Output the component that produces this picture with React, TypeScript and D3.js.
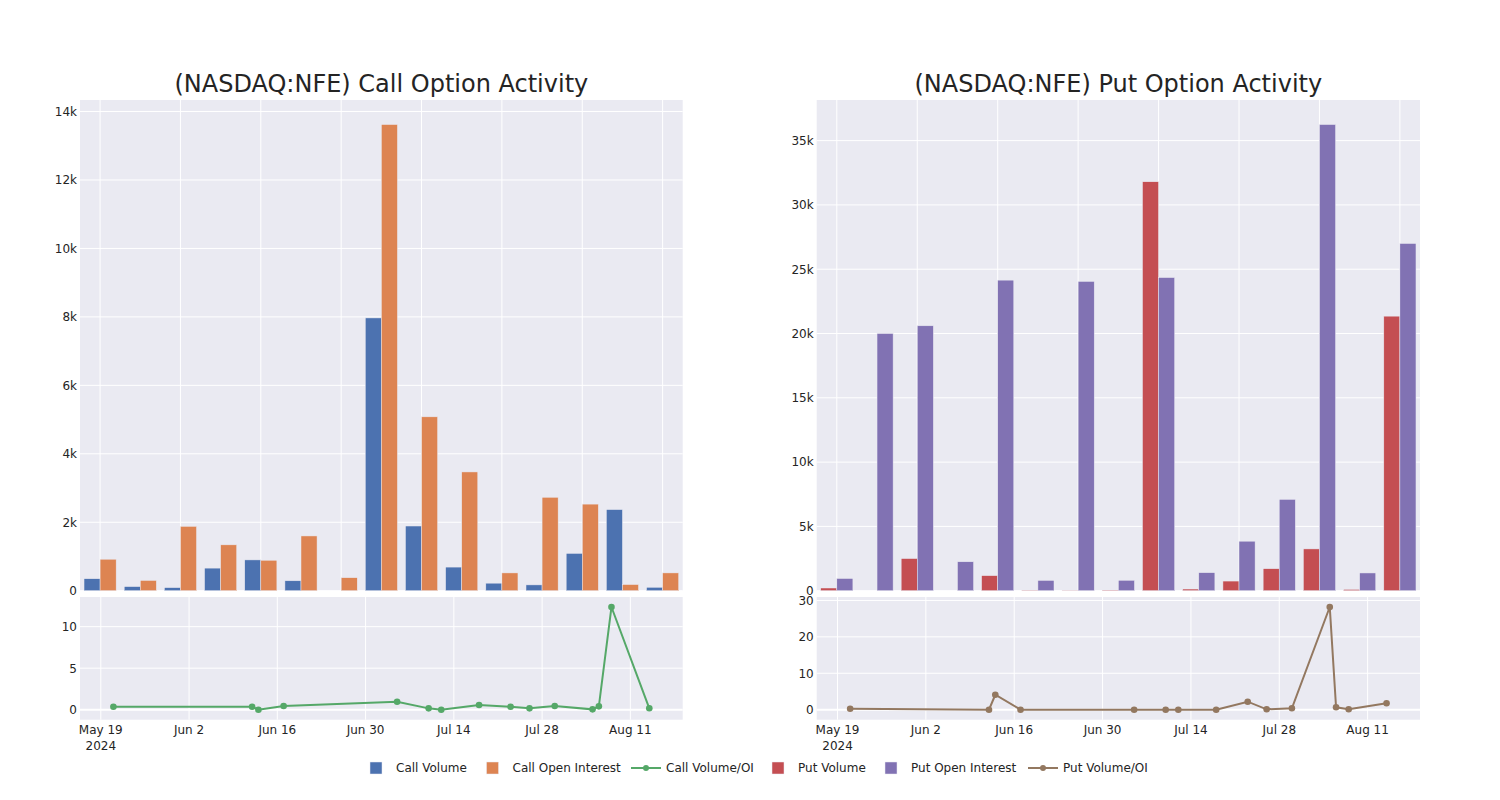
import React from "react";
import * as d3 from "d3";

// ---------- DATA ----------
const categories = [
  "2024-05-21", "2024-06-12", "2024-06-13", "2024-06-17", "2024-07-05",
  "2024-07-10", "2024-07-12", "2024-07-18", "2024-07-23", "2024-07-26",
  "2024-07-30", "2024-08-05", "2024-08-06", "2024-08-08", "2024-08-14",
];
const callVolume = [350, 120, 90, 660, 900, 290, 0, 7970, 1890, 690, 220, 170, 1090, 2370, 100];
const callOpenInterest = [920, 300, 1880, 1340, 890, 1600, 380, 13620, 5080, 3470, 520, 2730, 2530, 180, 520];
const callVolOI = [0.36, 0.36, 0.0, 0.44, 0.96, 0.16, 0.0, 0.56, 0.36, 0.16, 0.44, 0.04, 0.4, 12.37, 0.17];

const putVolume = [210, 0, 2500, 0, 1170, 30, 20, 40, 31800, 130, 750, 1710, 3250, 100, 21350];
const putOpenInterest = [950, 20000, 20600, 2250, 24150, 800, 24050, 810, 24350, 1400, 3850, 7100, 36250, 1380, 27000];
const putVolOI = [0.27, 0.0, 4.1, 0.0, 0.0, 0.0, 0.0, 0.0, 2.2, 0.1, 0.38, 28.2, 0.65, 0.1, 1.75];

const dateTicks = ["2024-05-19", "2024-06-02", "2024-06-16", "2024-06-30", "2024-07-14", "2024-07-28", "2024-08-11"];
const dateTickLabels = ["May 19", "Jun 2", "Jun 16", "Jun 30", "Jul 14", "Jul 28", "Aug 11"];
const callBarTicks = [0, 2000, 4000, 6000, 8000, 10000, 12000, 14000];
const putBarTicks = [0, 5000, 10000, 15000, 20000, 25000, 30000, 35000];
const callLineTicks = [0, 5, 10];
const putLineTicks = [0, 10, 20, 30];

const legendItems = [
  { label: "Call Volume", color: "#4C72B0", kind: "bar" },
  { label: "Call Open Interest", color: "#DD8452", kind: "bar" },
  { label: "Call Volume/OI", color: "#55A868", kind: "line" },
  { label: "Put Volume", color: "#C44E52", kind: "bar" },
  { label: "Put Open Interest", color: "#8172B3", kind: "bar" },
  { label: "Put Volume/OI", color: "#937860", kind: "line" },
];
const legendX = [356, 472.5, 626, 758, 871, 1023];

// ---------- STYLE ----------
const FONT = "'DejaVu Sans', Verdana, sans-serif";
const TEXT = "#242424";
const BG = "#EAEAF2";
const parse = d3.utcParse("%Y-%m-%d");
const DAY = 864e5;

type PanelProps = {
  x0: number; x1: number; title: string;
  vol: number[]; oi: number[]; ratio: number[];
  volColor: string; oiColor: string; lineColor: string;
  barTicks: number[]; lineTicks: number[];
};

function Panel(p: PanelProps) {
  const topY0 = 100, topY1 = 590.7;
  const botY0 = 597, botY1 = 719.7;

  const band = d3.scaleBand<string>().domain(categories).range([p.x0, p.x1]).paddingInner(0.2).paddingOuter(0.1);
  const sub = d3.scaleBand<string>().domain(["vol", "oi"]).range([0, band.bandwidth()]);
  const step = band.step();
  const center = (c: string) => (band(c) as number) + band.bandwidth() / 2;

  const barMax = d3.max([...p.vol, ...p.oi]) as number;
  const yBar = d3.scaleLinear().domain([0, barMax / 0.95]).range([topY1, topY0]);

  const dates = categories.map((c) => parse(c) as Date);
  const pad = 5.3 * DAY;
  const xTime = d3.scaleUtc()
    .domain([new Date(+dates[0] - pad), new Date(+dates[dates.length - 1] + pad)])
    .range([p.x0, p.x1]);
  const rMin = d3.min(p.ratio) as number, rMax = d3.max(p.ratio) as number;
  const rPad = (rMax - rMin) * 0.0975;
  const yLine = d3.scaleLinear().domain([rMin - rPad, rMax + rPad]).range([botY1, botY0]);

  const line = d3.line<number>().x((_, i) => xTime(dates[i])).y((d) => yLine(d));
  const fmtK = (v: number) => (v === 0 ? "0" : `${v / 1000}k`);

  return (
    <g>
      <text x={(p.x0 + p.x1) / 2} y={92} textAnchor="middle" fontSize={24} fill={TEXT} fontFamily={FONT}>{p.title}</text>
      {/* top bar panel */}
      <rect x={p.x0} y={topY0} width={p.x1 - p.x0} height={topY1 - topY0} fill={BG} />
      {categories.map((c, i) => i % 2 === 0 ? (
        <line key={"vg" + c} x1={center(c)} x2={center(c)} y1={topY0} y2={topY1} stroke="#fff" strokeWidth={1} />
      ) : null)}
      {p.barTicks.map((t) => (
        <g key={"bt" + t}>
          <line x1={p.x0} x2={p.x1} y1={yBar(t)} y2={yBar(t)} stroke="#fff" strokeWidth={1} />
          <text x={p.x0 - 3} y={yBar(t)} dy="0.36em" textAnchor="end" fontSize={12} fill={TEXT} fontFamily={FONT}>{fmtK(t)}</text>
        </g>
      ))}
      {categories.map((c, i) => (
        <g key={"b" + c}>
          <rect x={(band(c) as number) + (sub("vol") as number)} y={yBar(p.vol[i])} width={sub.bandwidth()} height={topY1 - yBar(p.vol[i])}
            fill={p.volColor} stroke="rgb(234,234,242)" strokeWidth={0.5} />
          <rect x={(band(c) as number) + (sub("oi") as number)} y={yBar(p.oi[i])} width={sub.bandwidth()} height={topY1 - yBar(p.oi[i])}
            fill={p.oiColor} stroke="rgb(234,234,242)" strokeWidth={0.5} />
        </g>
      ))}
      {/* bottom line panel */}
      <rect x={p.x0} y={botY0} width={p.x1 - p.x0} height={botY1 - botY0} fill={BG} />
      {dateTicks.map((d, i) => {
        const x = xTime(parse(d) as Date);
        return (
          <g key={"dt" + d}>
            <line x1={x} x2={x} y1={botY0} y2={botY1} stroke="#fff" strokeWidth={1} />
            <text x={x} y={733.5} textAnchor="middle" fontSize={12} fill={TEXT} fontFamily={FONT}>{dateTickLabels[i]}</text>
            {i === 0 ? <text x={x} y={750} textAnchor="middle" fontSize={12} fill={TEXT} fontFamily={FONT}>2024</text> : null}
          </g>
        );
      })}
      {p.lineTicks.map((t) => (
        <g key={"lt" + t}>
          <line x1={p.x0} x2={p.x1} y1={yLine(t)} y2={yLine(t)} stroke="#fff" strokeWidth={t === 0 ? 2 : 1} />
          <text x={p.x0 - 3} y={yLine(t)} dy="0.36em" textAnchor="end" fontSize={12} fill={TEXT} fontFamily={FONT}>{t}</text>
        </g>
      ))}
      <path d={line(p.ratio) as string} fill="none" stroke={p.lineColor} strokeWidth={2} />
      {p.ratio.map((v, i) => (
        <circle key={"pt" + i} cx={xTime(dates[i])} cy={yLine(v)} r={3.3} fill={p.lineColor} />
      ))}
    </g>
  );
}

export default function App() {
  return (
    <svg width={1500} height={800} style={{ position: "absolute", left: 0, top: 0, background: "#fff" }}>
      <rect x={0} y={0} width={1500} height={800} fill="#fff" />
      <Panel x0={80} x1={682.7} title="(NASDAQ:NFE) Call Option Activity"
        vol={callVolume} oi={callOpenInterest} ratio={callVolOI}
        volColor="#4C72B0" oiColor="#DD8452" lineColor="#55A868"
        barTicks={callBarTicks} lineTicks={callLineTicks} />
      <Panel x0={816.7} x1={1420} title="(NASDAQ:NFE) Put Option Activity"
        vol={putVolume} oi={putOpenInterest} ratio={putVolOI}
        volColor="#C44E52" oiColor="#8172B3" lineColor="#937860"
        barTicks={putBarTicks} lineTicks={putLineTicks} />
      {legendItems.map((it, i) => {
        const x = legendX[i];
        const cy = 768;
        return (
          <g key={it.label}>
            {it.kind === "bar" ? (
              <rect x={x + 14} y={cy - 6} width={12} height={12} fill={it.color} stroke="rgb(234,234,242)" strokeWidth={0.5} />
            ) : (
              <g>
                <line x1={x + 5} x2={x + 35} y1={cy} y2={cy} stroke={it.color} strokeWidth={2} />
                <circle cx={x + 20} cy={cy} r={3} fill={it.color} />
              </g>
            )}
            <text x={x + 40} y={cy + 4.3} fontSize={12} fill={TEXT} fontFamily={FONT}>{it.label}</text>
          </g>
        );
      })}
    </svg>
  );
}
